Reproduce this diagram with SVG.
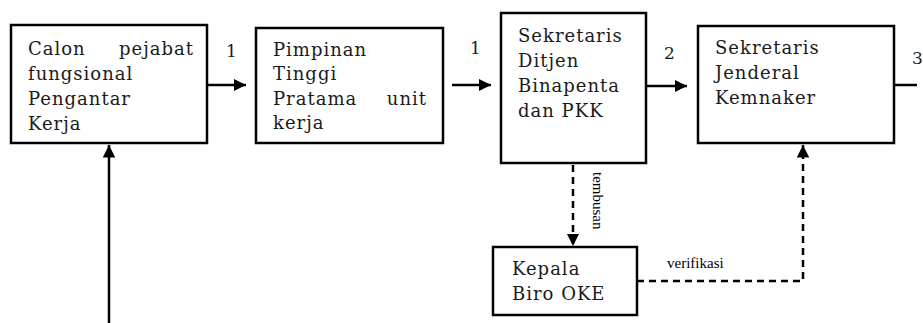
<svg xmlns="http://www.w3.org/2000/svg" width="923" height="323" viewBox="0 0 923 323">
<defs>
<style>
.box{fill:#fff;stroke:#000;stroke-width:2.5}
.t{font-family:"DejaVu Serif","Liberation Serif",serif;font-size:18px;letter-spacing:1px;fill:#1a1a1a}
.e{text-anchor:end}
.n{font-family:"DejaVu Serif","Liberation Serif",serif;font-size:17px;fill:#1a1a1a}
.s{font-family:"Liberation Serif","Times New Roman",serif;font-size:15px;fill:#000}
.ln{stroke:#000;stroke-width:2.5;fill:none}
.dl{stroke:#000;stroke-width:2.5;fill:none;stroke-dasharray:7 5}
</style>
<marker id="ah" viewBox="0 0 10 10" refX="10" refY="5" markerWidth="5" markerHeight="5" orient="auto" markerUnits="strokeWidth">
<path d="M0,0 L10,5 L0,10 z" fill="#000"/>
</marker>
</defs>
<rect width="923" height="323" fill="#fff"/>
<g id="connectors">
<line class="ln" x1="207" y1="85" x2="246" y2="85" marker-end="url(#ah)"/>
<line class="ln" x1="452" y1="85" x2="491" y2="85" marker-end="url(#ah)"/>
<line class="ln" x1="646" y1="86" x2="687" y2="86" marker-end="url(#ah)"/>
<line class="ln" x1="894" y1="85" x2="917" y2="85"/>
<line class="ln" x1="109" y1="323" x2="109" y2="145" marker-end="url(#ah)"/>
<line class="dl" x1="573" y1="165" x2="573" y2="246" marker-end="url(#ah)"/>
<polyline class="dl" points="637,281 803,281 803,145" marker-end="url(#ah)"/>
<text class="n" x="226" y="57">1</text>
<text class="n" x="470" y="54">1</text>
<text class="n" x="664" y="59">2</text>
<text class="n" x="912" y="64">3</text>
<text class="s" transform="translate(593,172) rotate(90)">tembusan</text>
<text class="s" x="667" y="268">verifikasi</text>
</g>
<g id="node-calon">
<rect class="box" x="11" y="25" width="196" height="118"/>
<text class="t" x="28" y="55">Calon</text>
<text class="t e" x="194" y="55">pejabat</text>
<text class="t" x="28" y="80">fungsional</text>
<text class="t" x="28" y="105">Pengantar</text>
<text class="t" x="28" y="130">Kerja</text>
</g>
<g id="node-pimpinan">
<rect class="box" x="256" y="28" width="187" height="115"/>
<text class="t" x="273" y="56">Pimpinan</text>
<text class="t" x="273" y="80">Tinggi</text>
<text class="t" x="273" y="105">Pratama</text>
<text class="t e" x="427" y="105">unit</text>
<text class="t" x="273" y="129">kerja</text>
</g>
<g id="node-ditjen">
<rect class="box" x="501" y="13" width="145" height="150"/>
<text class="t" x="518" y="42">Sekretaris</text>
<text class="t" x="518" y="67">Ditjen</text>
<text class="t" x="518" y="92">Binapenta</text>
<text class="t" x="518" y="117">dan PKK</text>
</g>
<g id="node-sekjen">
<rect class="box" x="698" y="26" width="196" height="117"/>
<text class="t" x="715" y="54">Sekretaris</text>
<text class="t" x="715" y="79">Jenderal</text>
<text class="t" x="715" y="104">Kemnaker</text>
</g>
<g id="node-biro">
<rect class="box" x="493" y="247" width="144" height="68"/>
<text class="t" x="512" y="275">Kepala</text>
<text class="t" x="512" y="300">Biro OKE</text>
</g>
</svg>
